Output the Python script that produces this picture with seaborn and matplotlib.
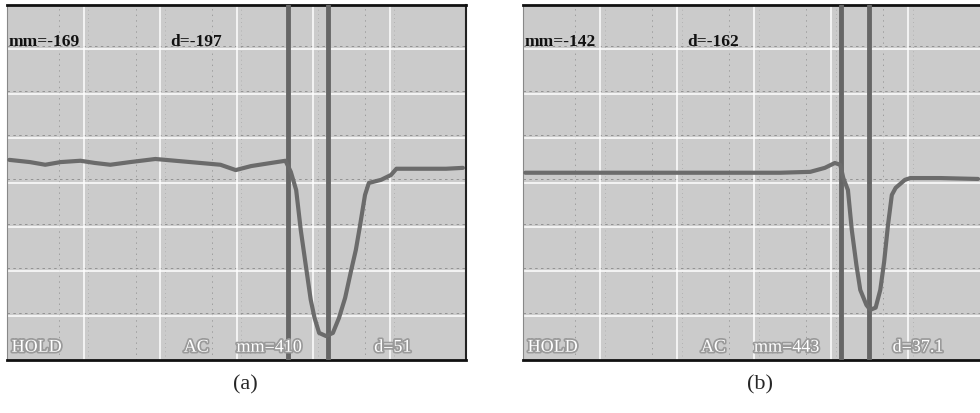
import numpy as np
import pandas as pd
import matplotlib
matplotlib.use("Agg")
import matplotlib.pyplot as plt
import matplotlib.patheffects as pe
import seaborn as sns

# Trace (a), x in horizontal divisions (0-6), y in vertical divisions (-4..4)
xa = [0.03, 0.30, 0.50, 0.70, 0.96, 1.15, 1.35, 1.61, 1.94, 2.20, 2.53, 2.79, 2.99, 3.19,
      3.45, 3.64, 3.71, 3.78, 3.84, 3.91, 3.97, 4.02, 4.08, 4.17, 4.26, 4.34, 4.42, 4.50,
      4.56, 4.61, 4.68, 4.73, 4.89, 5.02, 5.09, 5.41, 5.74, 5.96]
ya = [0.51, 0.46, 0.40, 0.46, 0.49, 0.44, 0.40, 0.46, 0.53, 0.49, 0.44, 0.40, 0.28, 0.37,
      0.44, 0.49, 0.24, -0.17, -1.07, -1.92, -2.64, -3.05, -3.39, -3.46, -3.39, -3.05,
      -2.60, -1.97, -1.52, -1.02, -0.28, -0.01, 0.06, 0.17, 0.31, 0.31, 0.31, 0.33]

# Trace (b)
xb = [0.03, 1.00, 2.30, 3.34, 3.73, 3.92, 4.05, 4.12, 4.16, 4.22, 4.27, 4.33, 4.38, 4.46,
      4.51, 4.58, 4.64, 4.69, 4.74, 4.79, 4.84, 4.96, 5.03, 5.42, 5.91]
yb = [0.22, 0.22, 0.22, 0.22, 0.24, 0.33, 0.44, 0.40, 0.10, -0.17, -1.07, -1.86, -2.42,
      -2.76, -2.87, -2.82, -2.42, -1.79, -0.96, -0.28, -0.12, 0.06, 0.10, 0.10, 0.08]

# cursor positions (divisions)
cursors_a = [3.67, 4.19]
cursors_b = [4.13, 4.49]

top_labels_a = ["mm=-169", "d=-197"]
top_labels_b = ["mm=-142", "d=-162"]
bottom_labels_a = ["HOLD", "AC", "mm=410", "d=51"]
bottom_labels_b = ["HOLD", "AC", "mm=443", "d=37.1"]
captions = ["(a)", "(b)"]

sns.set_style("white")
plt.rcParams["font.family"] = ["DejaVu Sans"]

W, H = 980, 413
fig = plt.figure(figsize=(W / 100, H / 100), dpi=100)

bg = "#cbcbcb"
trace_col = "#6b6b6b"


def panel(rect, x, y, cursors, top_labels, bottom_labels, top_x, bottom_x, caption, cap_x):
    left, right, top, bottom = rect
    ax = fig.add_axes([left / W, 1 - bottom / H, (right - left) / W, (bottom - top) / H])
    ax.set_facecolor(bg)
    ax.set_xlim(0, 6)
    ax.set_ylim(-4, 4)
    # faint dark dotted lines next to the white graticule
    for gx in range(1, 6):
        ax.axvline(gx - 0.32, color="#8a8a8a", lw=0.5, ls=(0, (2, 6)), zorder=1)
        ax.axvline(gx + 0.06, color="#9a9a9a", lw=0.5, ls=(0, (1, 5)), zorder=1)
    for gy in range(-3, 4):
        ax.axhline(gy + 0.07, color="#8a8a8a", lw=0.6, ls=(0, (3, 4)), zorder=1)
    # white graticule
    for gx in range(1, 6):
        ax.axvline(gx, color="white", lw=1.1, zorder=2)
    for gy in range(-3, 4):
        ax.axhline(gy, color="white", lw=1.1, zorder=2)
    for c in cursors:
        ax.axvline(c, color="#666666", lw=3.5, zorder=3)
    df = pd.DataFrame({"x": x, "y": y})
    sns.lineplot(data=df, x="x", y="y", ax=ax, color=trace_col, lw=3.0,
                 sort=False, zorder=4)
    ax.set_xticks([])
    ax.set_yticks([])
    ax.set_xlabel("")
    ax.set_ylabel("")
    for side in ["top", "bottom"]:
        ax.spines[side].set_color("#111111")
        ax.spines[side].set_linewidth(2)
    ax.spines["left"].set_color("#888888")
    ax.spines["right"].set_color("#222222")
    ax.spines["right"].set_linewidth(1.5)
    for lab, tx in zip(top_labels, top_x):
        ax.text(tx, 0.895, lab, transform=ax.transAxes, fontsize=12.5, color="#111111",
                family="Liberation Serif", fontweight="bold", va="center", ha="left",
                zorder=6)
    for lab, bx in zip(bottom_labels, bottom_x):
        ax.text(bx, 0.012, lab, transform=ax.transAxes, fontsize=13, color="white",
                family="Liberation Serif", va="bottom", ha="left", zorder=6,
                path_effects=[pe.withStroke(linewidth=2.5, foreground="#9a9a9a")])
    fig.text(cap_x / W, 1 - 385 / H, caption, fontsize=16, family="Liberation Serif",
             ha="center", va="center")
    return ax


panel((7, 466, 5, 360), xa, ya, cursors_a, top_labels_a, bottom_labels_a,
      [0.003, 0.355], [0.01, 0.385, 0.5, 0.8], captions[0], 245)
panel((523, 985, 5, 360), xb, yb, cursors_b, top_labels_b, bottom_labels_b,
      [0.003, 0.355], [0.01, 0.385, 0.5, 0.8], captions[1], 760)

fig.savefig("out.png", dpi=100, facecolor="white")
